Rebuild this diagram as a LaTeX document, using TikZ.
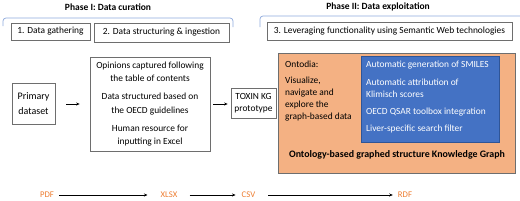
\documentclass[tikz,border=0pt]{standalone}
\usepackage{fontspec}
\setmainfont{Carlito}
\usetikzlibrary{arrows.meta}
\definecolor{bracketc}{HTML}{8FAADC}
\definecolor{boxgray}{HTML}{6E6E6E}
\definecolor{orangefill}{HTML}{F4B183}
\definecolor{bluefill}{HTML}{4472C4}
\definecolor{blueedge}{HTML}{2F5597}
\definecolor{fmtorange}{HTML}{ED7D31}
\begin{document}
\begin{tikzpicture}[x=1pt,y=-1pt,
  font=\fontsize{9.4}{11}\selectfont,
  plainbox/.style={draw=boxgray, line width=0.7pt, fill=white, inner sep=0pt, align=center},
  brk/.style={draw=bracketc, line width=0.7pt, rounded corners=3pt},
  arr/.style={draw=black, line width=0.6pt, -{Stealth[length=3.5pt,width=3pt]}},
  fmt/.style={text=fmtorange, inner sep=0pt, font=\fontsize{8.7}{10}\selectfont},
  title/.style={font=\fontsize{9.5}{11}\selectfont\bfseries, inner sep=0pt},
  lefttxt/.style={anchor=west, inner sep=0pt, align=left}]
\useasboundingbox (0,0) rectangle (520,201);

% phase titles and brackets
\node[title] (t1) at (108,7) {Phase I: Data curation};
\node[title] (t2) at (378,7) {Phase II: Data exploitation};
\draw[brk] (3,26) -- (3,18) -- (233,18) -- (233,27);
\draw[brk] (260,27) -- (260,16) -- (521,16);

% step boxes
\node[plainbox, minimum width=79pt, minimum height=17pt] (s1) at (50.5,31.5) {1. Data gathering};
\node[plainbox, minimum width=135pt, minimum height=19pt] (s2) at (161.5,32.5) {2. Data structuring \& ingestion};
\node[plainbox, minimum width=245pt, minimum height=18pt] (s3) at (389.5,31) {3. Leveraging functionality using Semantic Web technologies};

% main flow
\node[plainbox, minimum width=43pt, minimum height=41pt, font=\fontsize{10}{15}\selectfont] (prim) at (33.5,103.5) {Primary\\dataset};
\node[plainbox, minimum width=120pt, minimum height=94pt, font=\fontsize{9.4}{13.5}\selectfont] (mid) at (150,104)
  {Opinions captured following\\the table of contents\\[4.5pt]
   Data structured based on\\the OECD guidelines\\[4.5pt]
   Human resource for\\inputting in Excel};
\node[plainbox, minimum width=45pt, minimum height=30pt, font=\fontsize{9.4}{12}\selectfont] (tox) at (253.5,103) {TOXIN KG\\prototype};

\node[draw=boxgray, line width=0.7pt, fill=orangefill, minimum width=237pt, minimum height=120pt, inner sep=0pt] (kg) at (396.5,113) {};
\node[draw=blueedge, line width=0.7pt, fill=bluefill, minimum width=138pt, minimum height=86pt, inner sep=0pt] (blue) at (430,99) {};

\node[lefttxt] (onto) at (285,64) {Ontodia:};
\node[lefttxt, font=\fontsize{9.4}{12}\selectfont] (vis) at (285,99) {Visualize,\\navigate and\\explore the\\graph-based data};

\node[lefttxt, text=white] (b1) at (366,65) {Automatic generation of SMILES};
\node[lefttxt, text=white, font=\fontsize{9.4}{12}\selectfont] (b2) at (366,88) {Automatic attribution of\\Klimisch scores};
\node[lefttxt, text=white] (b3) at (366,112) {OECD QSAR toolbox integration};
\node[lefttxt, text=white] (b4) at (366,129) {Liver-specific search filter};

\node[title, font=\fontsize{9.9}{11}\selectfont\bfseries] (kgl) at (397,155) {Ontology-based graphed structure Knowledge Graph};

\draw[arr, shorten <=11pt, shorten >=10pt] (prim.east |- mid.west) -- (mid.west);
\draw[arr, shorten <=3pt, shorten >=3pt] (mid.east) -- (mid.east -| tox.west);

% formats
\node[fmt] (pdf) at (47,195) {PDF};
\node[fmt] (xlsx) at (169,195) {XLSX};
\node[fmt] (csv) at (248.5,195) {CSV};
\node[fmt] (rdf) at (405,195) {RDF};
\draw[arr, shorten <=5pt, shorten >=13pt] (pdf.east) -- (xlsx.west);
\draw[arr, shorten <=12pt, shorten >=6pt] (xlsx.east) -- (csv.west);
\draw[arr, shorten <=13pt, shorten >=5pt] (csv.east) -- (rdf.west);
\end{tikzpicture}
\end{document}
